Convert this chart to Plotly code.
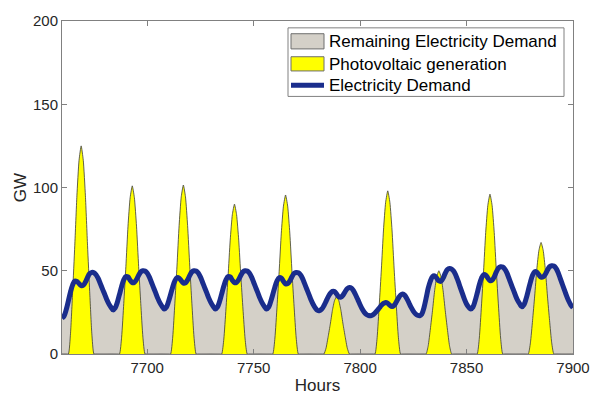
import plotly.graph_objects as go

HOUR_START = 7660
HOUR_END = 7900
hours = list(range(HOUR_START, HOUR_END + 1))

# Electricity demand (GW), hourly from 7660 to 7900
demand = [
    # 7660-7679
    21.5, 22.9, 26.7, 31.9, 37.3, 41.5, 43.8, 43.6, 42.3, 41.1, 41.3, 43.2, 46.0, 48.3, 49.0, 48.8, 47.6, 45.4, 42.3, 39.1,
    # 7680-7703
    36.0, 32.8, 30.1, 28.1, 26.5, 27.7, 31.1, 35.8, 40.6, 44.5, 46.5, 46.3, 44.3, 42.8, 43.0, 44.7, 47.3, 49.3, 50.0, 49.8, 48.6, 46.3, 43.1, 39.9,
    # 7704-7727
    36.7, 33.4, 30.7, 28.6, 27.0, 28.1, 31.4, 35.7, 40.3, 43.9, 45.8, 45.6, 44.0, 42.6, 42.8, 44.5, 47.2, 49.3, 50.0, 49.8, 48.6, 46.3, 43.1, 39.9,
    # 7728-7751
    36.7, 33.4, 30.7, 28.6, 27.0, 28.2, 31.5, 36.1, 40.8, 44.5, 46.5, 46.3, 44.3, 42.8, 43.0, 44.7, 47.3, 49.3, 50.0, 49.8, 48.6, 46.3, 43.1, 39.9,
    # 7752-7775
    36.7, 33.4, 30.7, 28.6, 27.0, 28.1, 31.4, 35.7, 40.3, 43.9, 45.8, 45.6, 43.7, 42.1, 42.3, 43.9, 46.4, 48.4, 49.0, 48.8, 47.6, 45.3, 42.1, 38.9,
    # 7776-7799
    35.7, 32.4, 29.7, 27.6, 26.2, 26.1, 27.0, 29.0, 31.6, 34.3, 36.4, 37.6, 37.6, 36.0, 34.4, 34.2, 35.4, 37.5, 39.3, 40.0, 39.5, 37.8, 35.3, 32.5,
    # 7800-7823
    29.6, 27.0, 25.0, 23.7, 23.1, 23.0, 23.5, 24.6, 26.0, 27.6, 29.2, 30.4, 31.0, 30.5, 29.2, 28.5, 29.2, 31.2, 33.6, 35.4, 36.0, 35.2, 33.2, 30.6,
    # 7824-7847
    28.0, 25.8, 24.2, 23.3, 23.0, 24.0, 27.8, 33.5, 39.5, 43.8, 46.5, 46.9, 45.5, 43.9, 43.7, 45.6, 48.5, 50.7, 51.4, 51.0, 49.7, 47.2, 43.9, 40.2,
    # 7848-7871
    36.6, 33.0, 30.0, 28.1, 27.0, 28.2, 31.8, 36.6, 41.6, 45.5, 47.6, 47.4, 45.6, 44.1, 44.3, 46.3, 49.3, 51.6, 52.4, 52.2, 50.9, 48.6, 45.2, 41.8,
    # 7872-7895
    38.5, 35.1, 32.2, 30.1, 28.4, 29.7, 33.3, 38.2, 43.2, 47.3, 49.4, 49.2, 47.5, 46.1, 46.3, 47.9, 50.4, 52.4, 53.0, 52.8, 51.5, 49.0, 45.4, 41.9,
    # 7896-7900
    38.4, 34.9, 31.8, 29.4, 27.8,
]

# Photovoltaic generation (GW), hourly from 7660 to 7900
pv = [
    # 7660-7679
    0, 0, 0, 0, 12.5, 37.5, 65.0, 95.0, 116.3, 125.0, 116.3, 95.0, 65.0, 37.5, 12.5, 0, 0, 0, 0, 0,
    # 7680-7703
    0, 0, 0, 0, 0, 0, 0, 0, 10.1, 30.3, 52.5, 76.8, 93.9, 101.0, 93.9, 76.8, 52.5, 30.3, 10.1, 0, 0, 0, 0, 0,
    # 7704-7727
    0, 0, 0, 0, 0, 0, 0, 0, 10.2, 30.5, 52.8, 77.1, 94.4, 101.5, 94.4, 77.1, 52.8, 30.5, 10.2, 0, 0, 0, 0, 0,
    # 7728-7751
    0, 0, 0, 0, 0, 0, 0, 0, 9.0, 27.0, 46.8, 68.4, 83.7, 90.0, 83.7, 68.4, 46.8, 27.0, 9.0, 0, 0, 0, 0, 0,
    # 7752-7775
    0, 0, 0, 0, 0, 0, 0, 0, 9.6, 28.7, 49.7, 72.6, 88.8, 95.5, 88.8, 72.6, 49.7, 28.7, 9.6, 0, 0, 0, 0, 0,
    # 7776-7799
    0, 0, 0, 0, 0, 0, 0, 0, 3.5, 10.4, 17.9, 26.2, 32.1, 34.5, 32.1, 26.2, 17.9, 10.4, 3.5, 0, 0, 0, 0, 0,
    # 7800-7823
    0, 0, 0, 0, 0, 0, 0, 0, 9.8, 29.4, 51.0, 74.5, 91.1, 98.0, 91.1, 74.5, 51.0, 29.4, 9.8, 0, 0, 0, 0, 0,
    # 7824-7847
    0, 0, 0, 0, 0, 0, 0, 0, 5.0, 15.0, 26.0, 38.0, 46.5, 50.0, 46.5, 38.0, 26.0, 15.0, 5.0, 0, 0, 0, 0, 0,
    # 7848-7871
    0, 0, 0, 0, 0, 0, 0, 0, 9.6, 28.8, 49.9, 73.0, 89.3, 96.0, 89.3, 73.0, 49.9, 28.8, 9.6, 0, 0, 0, 0, 0,
    # 7872-7895
    0, 0, 0, 0, 0, 0, 0, 0, 6.7, 20.1, 34.8, 50.9, 62.3, 67.0, 62.3, 50.9, 34.8, 20.1, 6.7, 0, 0, 0, 0, 0,
    # 7896-7900
    0, 0, 0, 0, 0,
]

x_ticks = [7700, 7750, 7800, 7850, 7900]
y_ticks = [0, 50, 100, 150, 200]

series_names = ["Remaining Electricity Demand", "Photovoltaic generation", "Electricity Demand"]

FONT = "Arial, Liberation Sans, sans-serif"
GRAY_FILL = "#d4d0c8"
YELLOW = "#ffff00"
BLUE = "#1a2d8c"
AXIS = "#808080"
TEXT = "#262626"

W, H = 603, 404
ML, MR, MT, MB = 62, 30, 16, 48
PW, PH = W - ML - MR, H - MT - MB


def px_x(p):
    return (p - ML) / PW


def px_y(p):
    return (H - MB - p) / PH


fig = go.Figure()
fig.add_trace(go.Scatter(
    x=hours, y=demand, name=series_names[0],
    mode="lines", fill="tozeroy", fillcolor=GRAY_FILL,
    line=dict(color="#5a5a5a", width=0.8, shape="spline"),
))
fig.add_trace(go.Scatter(
    x=hours, y=pv, name=series_names[1],
    mode="lines", fill="tozeroy", fillcolor=YELLOW,
    line=dict(color="#3a3a3a", width=0.8, shape="spline", smoothing=0.5),
))
fig.add_trace(go.Scatter(
    x=hours, y=demand, name=series_names[2],
    mode="lines", line=dict(color=BLUE, width=5, shape="spline"),
))

axis_common = dict(
    showline=True, linecolor=AXIS, linewidth=1, mirror="ticks",
    ticks="inside", ticklen=5, tickcolor=AXIS, showgrid=False, zeroline=False,
    tickfont=dict(family=FONT, size=15, color=TEXT),
)
fig.update_xaxes(range=[HOUR_START, HOUR_END], tickvals=x_ticks,
                 title=dict(text="Hours", font=dict(family=FONT, size=17, color=TEXT), standoff=4),
                 **axis_common)
fig.update_yaxes(range=[0, 200], tickvals=y_ticks,
                 title=dict(text="GW", font=dict(family=FONT, size=17, color=TEXT), standoff=2),
                 **axis_common)

# Legend drawn as a MATLAB-style box (rectangular swatches)
shapes = [
    dict(type="rect", xref="paper", yref="paper",
         x0=px_x(288), x1=px_x(564), y0=px_y(93), y1=px_y(23),
         line=dict(color=AXIS, width=1), fillcolor="white", layer="above"),
    dict(type="rect", xref="paper", yref="paper",
         x0=px_x(291), x1=px_x(324), y0=px_y(44.5), y1=px_y(29),
         line=dict(color="#6e6e6e", width=1), fillcolor=GRAY_FILL, layer="above"),
    dict(type="rect", xref="paper", yref="paper",
         x0=px_x(291), x1=px_x(324), y0=px_y(67), y1=px_y(52.5),
         line=dict(color="#6e6e6e", width=1), fillcolor=YELLOW, layer="above"),
    dict(type="line", xref="paper", yref="paper",
         x0=px_x(291), x1=px_x(324), y0=px_y(81.5), y1=px_y(81.5),
         line=dict(color=BLUE, width=5), layer="above"),
]
row_y = [37, 60, 82]
annotations = [
    dict(text=name, xref="paper", yref="paper", x=px_x(326.5), y=px_y(yy),
         xanchor="left", yanchor="middle", showarrow=False,
         font=dict(family=FONT, size=17, color="#000000"))
    for name, yy in zip(series_names, row_y)
]

fig.update_layout(
    width=W, height=H,
    margin=dict(l=ML, r=MR, t=MT, b=MB),
    plot_bgcolor="white", paper_bgcolor="white",
    showlegend=False,
    shapes=shapes, annotations=annotations,
    font=dict(family=FONT),
)

fig.write_html("out.html")
